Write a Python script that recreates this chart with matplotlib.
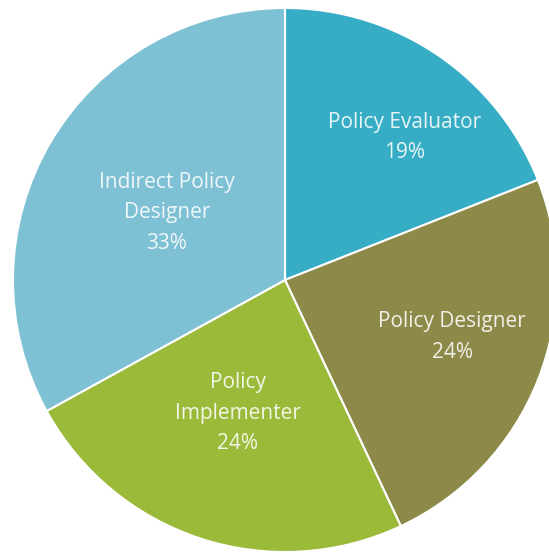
import numpy as np
import matplotlib
matplotlib.use('Agg')
import matplotlib.pyplot as plt

# slices, clockwise from 12 o'clock
labels = ['Policy Evaluator', 'Policy Designer', 'Policy\nImplementer', 'Indirect Policy\nDesigner']
shares = [19, 24, 24, 33]
colors = ['#36adc4', '#8d8948', '#9cba3a', '#7ec0d4']
# label placement: (radius fraction, angle shift in degrees) per slice
label_dist = [0.685, 0.65, 0.52, 0.50]
label_shift = [-5.8, 2.8, -1.6, 1.0]

fig = plt.figure(figsize=(5.49, 5.54), dpi=100)
# pie centre ~ (285, 280) px, radius ~ 272 px
r_px, cx, cy = 272, 285, 280
ax = fig.add_axes([(cx - r_px) / 549, (554 - cy - r_px) / 554, 2 * r_px / 549, 2 * r_px / 554])

wedges, _ = ax.pie(shares, colors=colors, startangle=90, counterclock=False,
                   wedgeprops=dict(edgecolor='white', linewidth=1.5))
ax.set_xlim(-1, 1)
ax.set_ylim(-1, 1)
ax.set_aspect('auto')
ax.axis('off')

for w, lab, val, d, s in zip(wedges, labels, shares, label_dist, label_shift):
    ang = np.deg2rad((w.theta1 + w.theta2) / 2 + s)
    ax.text(d * np.cos(ang), d * np.sin(ang), f'{lab}\n{val}%',
            ha='center', va='center', color='white', alpha=0.88, fontsize=15,
            family=['Open Sans', 'DejaVu Sans'], linespacing=1.58)

fig.savefig('out.png', dpi=100)
